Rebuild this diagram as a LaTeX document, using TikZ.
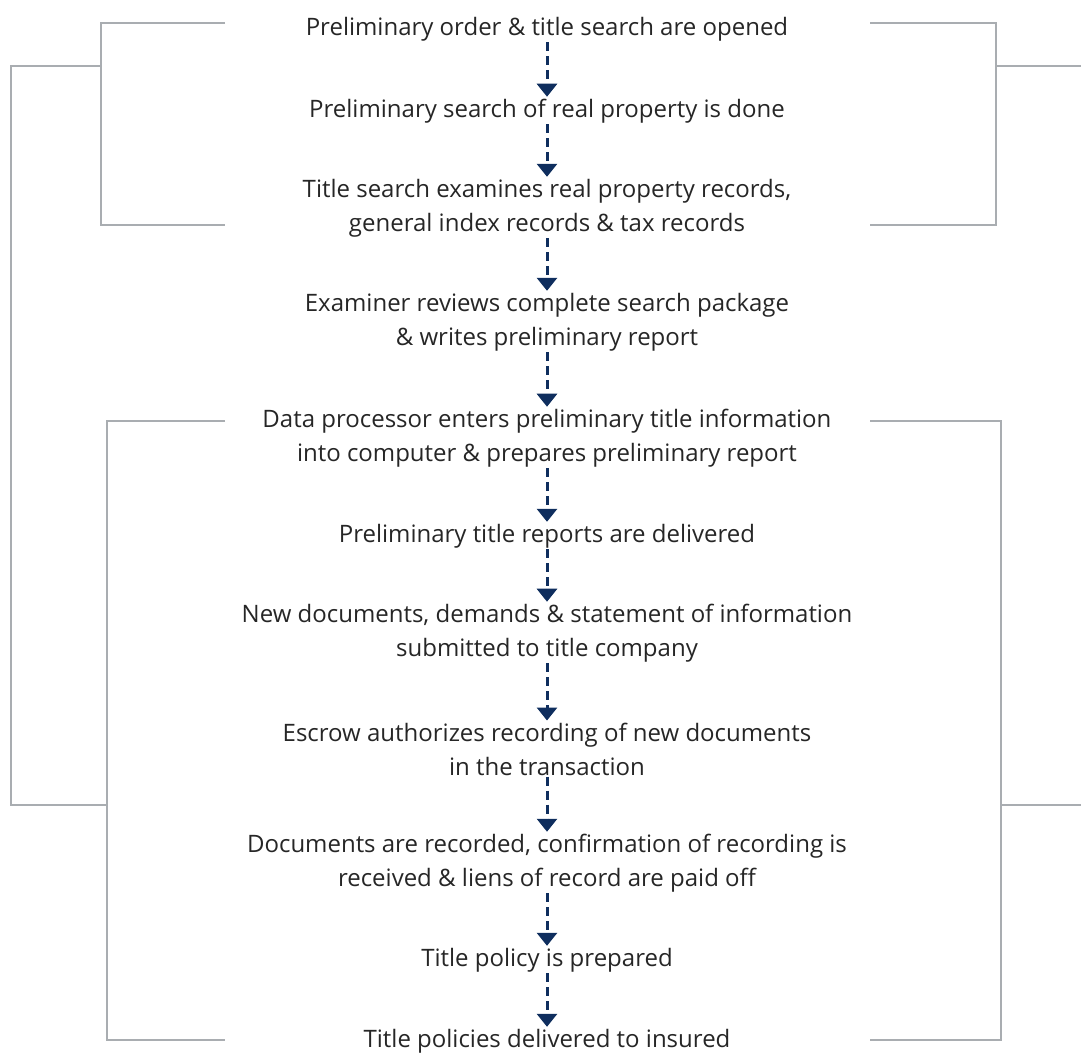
\documentclass[tikz,border=0pt]{standalone}
\usepackage{fontspec}
\setmainfont{Open Sans}
\usetikzlibrary{arrows.meta}
\definecolor{navy}{HTML}{0F2E5E}
\definecolor{bracket}{HTML}{A9ADB1}
\tikzset{
  stepbox/.style={align=center, inner sep=1pt, font=\fontsize{24}{34}\selectfont, text=black!85},
  flow/.style={draw=navy, line width=3pt, dash pattern=on 9pt off 5pt, -{Triangle[width=20pt,length=13pt]}, shorten >=1pt},
  brk/.style={draw=bracket, line width=1.5pt}
}
\begin{document}
\begin{tikzpicture}[x=1pt,y=-1pt]
\useasboundingbox (0,0) rectangle (1081,1053);
\node[stepbox] (n1) at (547,29) {Preliminary order \& title search are opened};
\node[stepbox] (n2) at (547,111) {Preliminary search of real property is done};
\node[stepbox] (n3) at (547,208) {Title search examines real property records,\\general index records \& tax records};
\node[stepbox] (n4) at (547,322) {Examiner reviews complete search package\\\& writes preliminary report};
\node[stepbox] (n5) at (547,438) {Data processor enters preliminary title information\\into computer \& prepares preliminary report};
\node[stepbox] (n6) at (547,536) {Preliminary title reports are delivered};
\node[stepbox] (n7) at (547,633) {New documents, demands \& statement of information\\submitted to title company};
\node[stepbox] (n8) at (547,749) {Escrow authorizes recording of new documents\\in the transaction};
\node[stepbox] (n9) at (547,863) {Documents are recorded, confirmation of recording is\\received \& liens of record are paid off};
\node[stepbox] (n10) at (547,960) {Title policy is prepared};
\node[stepbox] (n11) at (547,1041) {Title policies delivered to insured};
\foreach \a/\b in {n1/n2,n2/n3,n3/n4,n4/n5,n5/n6,n6/n7,n7/n8,n8/n9,n9/n10,n10/n11}
  \draw[flow] (\a.south) -- (\b.north);
% top bracket
\coordinate (tl1) at (225,23); \coordinate (tl2) at (101,23); \coordinate (tl3) at (101,225); \coordinate (tl4) at (225,225);
\draw[brk] (tl1) -- (tl2) -- (tl3) -- (tl4);
\coordinate (tr1) at (870,23); \coordinate (tr2) at (996,23); \coordinate (tr3) at (996,225); \coordinate (tr4) at (870,225);
\draw[brk] (tr1) -- (tr2) -- (tr3) -- (tr4);
% bottom bracket
\coordinate (bl1) at (225,421); \coordinate (bl2) at (107,421); \coordinate (bl3) at (107,1040); \coordinate (bl4) at (225,1040);
\draw[brk] (bl1) -- (bl2) -- (bl3) -- (bl4);
\coordinate (br1) at (870,421); \coordinate (br2) at (1001,421); \coordinate (br3) at (1001,1040); \coordinate (br4) at (870,1040);
\draw[brk] (br1) -- (br2) -- (br3) -- (br4);
% outer connections
\coordinate (ol1) at (101,66); \coordinate (ol2) at (11,66); \coordinate (ol3) at (11,805); \coordinate (ol4) at (107,805);
\draw[brk] (ol1) -- (ol2) -- (ol3) -- (ol4);
\coordinate (or1) at (996,66); \coordinate (or2) at (1081,66);
\draw[brk] (or1) -- (or2);
\coordinate (or3) at (1001,805); \coordinate (or4) at (1081,805);
\draw[brk] (or3) -- (or4);
\end{tikzpicture}
\end{document}
